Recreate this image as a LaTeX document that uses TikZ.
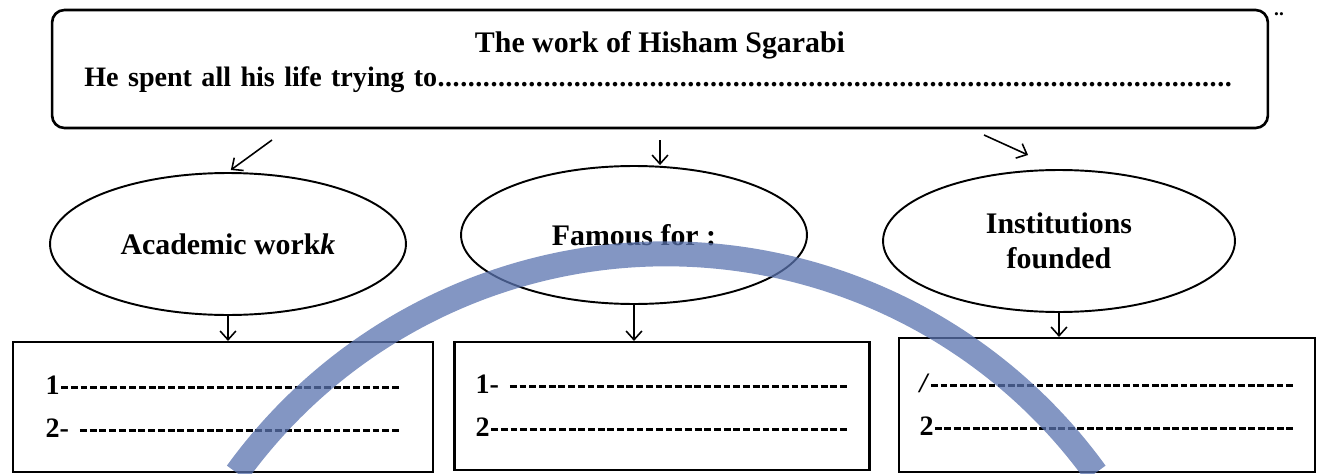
\documentclass[tikz,border=0pt]{standalone}
\usepackage{fontspec}
\setmainfont{Liberation Serif}
\usetikzlibrary{positioning,shapes.geometric,calc,arrows.meta}
\definecolor{markblue}{RGB}{90,115,175}

\newcommand{\dotrow}{\xleaders\hbox to 4.3pt{\hss.\hss}\hskip 0pt plus 1fill\null}
\newcommand{\dashrow}{\xleaders\hbox to 5.4pt{\hss\rule[0.22em]{3.9pt}{1.6pt}\hss}\hskip 0pt plus 1fill\null}

\tikzset{
  oval/.style={ellipse, draw, line width=1.1pt, inner sep=0pt, align=center},
  answerbox/.style={rectangle, draw, line width=1.2pt, inner sep=0pt, align=left,
    font=\bfseries\fontsize{16}{24.5}\selectfont},
  link/.style={-{Straight Barb[length=5pt,width=9pt]}, line width=0.9pt},
}

\begin{document}
\begin{tikzpicture}[x=0.02cm, y=-0.02cm, font=\bfseries\fontsize{17}{20}\selectfont]
            \useasboundingbox (0,0) rectangle (1321,473);

            % Heading box
            \node[rectangle, draw, line width=1.5pt, rounded corners=7pt, minimum width=24.32cm, minimum height=2.36cm] (topbox) at (660,69) {};
            \node (title) at (660,45) {The work of Hisham Sgarabi};
            \node[anchor=west, text width=22.96cm, align=left, inner sep=0pt, font=\bfseries\fontsize{16}{20}\selectfont] (blank) at (84,80) {He spent all his life trying to\dotrow};
            \node[font=\bfseries\fontsize{11}{11}\selectfont, inner sep=0pt, anchor=base] (mark) at (1279,16) {..};

            % Three topics
            \node[oval, minimum width=7.12cm, minimum height=2.84cm] (acad) at (228,244) {Academic work\textit{k}};
            \node[oval, minimum width=6.92cm, minimum height=2.76cm] (fame) at (634,235) {Famous for :};
            \node[oval, minimum width=7.04cm, minimum height=2.84cm] (inst) at (1059,241) {Institutions\\founded};

            % Answer boxes
            \node[answerbox, minimum width=8.4cm, minimum height=2.6cm, text width=7.1cm] (list1) at (223,407) {%
                1\dashrow\\%
                2- \dashrow%
            };
            \node[answerbox, minimum width=8.3cm, minimum height=2.56cm, text width=7.46cm] (list2) at (662,406) {%
                1- \dashrow\\%
                2\dashrow%
            };
            \node[answerbox, minimum width=8.32cm, minimum height=2.68cm, text width=7.5cm] (list3) at (1107,405) {%
                \textit{/}\dashrow\\%
                2\dashrow%
            };

            \coordinate (from1) at (272,140);
            \coordinate (from2) at (660,140);
            \coordinate (from3) at (984,135);
            \draw[link, shorten >=2pt] (from1) -- (acad.north);
            \draw[link] (from2) -- (from2 |- fame.north);
            \draw[link, shorten >=0.68cm] (from3) -- (inst.north);
            \draw[link] (acad.south) -- (acad.south |- list1.north);
            \draw[link] (fame.south) -- (fame.south |- list2.north);
            \draw[link] (inst.south) -- (inst.south |- list3.north);

            % Blue stroke across the sheet
            \draw[markblue, opacity=0.75, line width=0.5cm] (237,473) arc[start angle=144.1, end angle=35.9, radius=10.6cm];
        \end{tikzpicture}
\end{document}
